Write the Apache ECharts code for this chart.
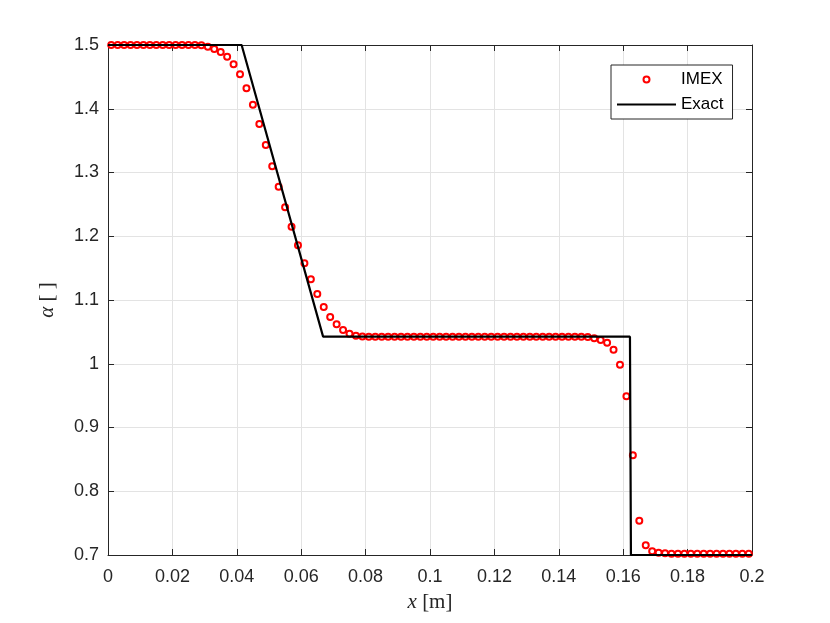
<!DOCTYPE html>
<html>
<head>
<meta charset="utf-8">
<script src="https://cdn.jsdelivr.net/npm/echarts@6/dist/echarts.min.js"></script>
<style>
  html, body { margin: 0; padding: 0; background: #fff; }
  #chart { width: 830px; height: 623px; }
</style>
</head>
<body>
<div id="chart"></div>
<script>
// IMEX solution, cell centres
const imexX = [
  0.001, 0.003, 0.005, 0.007, 0.009, 0.011, 0.013, 0.015, 0.017, 0.019,
  0.021, 0.023, 0.025, 0.027, 0.029, 0.031, 0.033, 0.035, 0.037, 0.039,
  0.041, 0.043, 0.045, 0.047, 0.049, 0.051, 0.053, 0.055, 0.057, 0.059,
  0.061, 0.063, 0.065, 0.067, 0.069, 0.071, 0.073, 0.075, 0.077, 0.079,
  0.081, 0.083, 0.085, 0.087, 0.089, 0.091, 0.093, 0.095, 0.097, 0.099,
  0.101, 0.103, 0.105, 0.107, 0.109, 0.111, 0.113, 0.115, 0.117, 0.119,
  0.121, 0.123, 0.125, 0.127, 0.129, 0.131, 0.133, 0.135, 0.137, 0.139,
  0.141, 0.143, 0.145, 0.147, 0.149, 0.151, 0.153, 0.155, 0.157, 0.159,
  0.161, 0.163, 0.165, 0.167, 0.169, 0.171, 0.173, 0.175, 0.177, 0.179,
  0.181, 0.183, 0.185, 0.187, 0.189, 0.191, 0.193, 0.195, 0.197, 0.199
];
const imexY = [
  1.5, 1.5, 1.5, 1.5, 1.5, 1.5, 1.5, 1.5, 1.5, 1.5,
  1.5, 1.5, 1.5, 1.5, 1.4995, 1.4974, 1.4937, 1.489, 1.4817, 1.4697,
  1.454, 1.432, 1.4064, 1.376, 1.343, 1.3097, 1.2777, 1.2454, 1.215, 1.1858,
  1.1575, 1.1325, 1.1094, 1.089, 1.0735, 1.062, 1.053, 1.047, 1.044, 1.0428,
  1.0425, 1.0425, 1.0425, 1.0425, 1.0425, 1.0425, 1.0425, 1.0425, 1.0425, 1.0425,
  1.0425, 1.0425, 1.0425, 1.0425, 1.0425, 1.0425, 1.0425, 1.0425, 1.0425, 1.0425,
  1.0425, 1.0425, 1.0425, 1.0425, 1.0425, 1.0425, 1.0425, 1.0425, 1.0425, 1.0425,
  1.0425, 1.0425, 1.0425, 1.0425, 1.0418, 1.04, 1.0373, 1.033, 1.022, 0.9985,
  0.949, 0.8564, 0.7538, 0.7152, 0.706, 0.7036, 0.7027, 0.702, 0.702, 0.702,
  0.702, 0.702, 0.702, 0.702, 0.702, 0.702, 0.702, 0.702, 0.702, 0.702
];
// exact solution corners
const exactX = [0, 0.0415, 0.0668, 0.1621, 0.1624, 0.2];
const exactY = [1.5, 1.5, 1.0425, 1.0425, 0.7, 0.7];

const seriesNames = ["IMEX", "Exact"];
const xRange = [0, 0.2, 0.02];
const yRange = [0.7, 1.5, 0.1];

const axisColor = "#262626";
const gridColor = "#e3e3e3";
const tickFont = "Liberation Sans, Arial, sans-serif";
const mathFont = "Liberation Serif, Times New Roman, serif";

const chart = echarts.init(document.getElementById("chart"));

function frameAxis(pos, range, isMain, margin) {
  return {
    type: "value",
    position: pos,
    min: range[0],
    max: range[1],
    interval: range[2],
    axisLine: { show: true, onZero: false, lineStyle: { color: axisColor, width: 1 } },
    axisTick: { show: true, inside: true, length: 6, lineStyle: { color: axisColor } },
    axisLabel: {
      show: isMain,
      color: axisColor,
      fontSize: 18,
      fontFamily: tickFont,
      margin: margin || 9,
    },
    splitLine: { show: isMain, lineStyle: { color: gridColor, width: 1 } },
  };
}

const xMain = frameAxis("bottom", xRange, true, 13);
xMain.name = "{i|x} [m]";
xMain.nameLocation = "middle";
xMain.nameGap = 37;
xMain.nameTextStyle = {
  fontSize: 21,
  fontFamily: mathFont,
  color: axisColor,
  rich: { i: { fontStyle: "italic", fontSize: 21, fontFamily: mathFont, color: axisColor } },
};

const yMain = frameAxis("left", yRange, true, 9);
yMain.name = "{i|α} [ ]";
yMain.nameLocation = "middle";
yMain.nameGap = 50;
yMain.nameTextStyle = {
  fontSize: 21,
  fontFamily: mathFont,
  color: axisColor,
  rich: { i: { fontStyle: "italic", fontSize: 21, fontFamily: mathFont, color: axisColor } },
};

const option = {
  backgroundColor: "#fff",
  animation: false,
  grid: { left: 108, right: 78, top: 45, bottom: 68, containLabel: false },
  xAxis: [xMain, frameAxis("top", xRange, false)],
  yAxis: [yMain, frameAxis("right", yRange, false)],
  legend: {
    orient: "vertical",
    left: 611,
    top: 65,
    padding: [6, 9, 6, 6],
    itemWidth: 59,
    itemHeight: 7.5,
    itemGap: 8,
    align: "left",
    backgroundColor: "#fff",
    borderColor: axisColor,
    borderWidth: 1,
    borderRadius: 0,
    textStyle: { fontSize: 17, fontFamily: tickFont, color: "#000", lineHeight: 17, padding: [0, 0, 0, 0] },
    data: [
      { name: seriesNames[0], lineStyle: { opacity: 0, width: 0 } },
      { name: seriesNames[1], icon: "path://M0,0 L59,0 L59,2.2 L0,2.2 Z" },
    ],
  },
  series: [
    {
      name: seriesNames[0],
      type: "line",
      data: imexX.map((x, i) => [x, imexY[i]]),
      symbol: "emptyCircle",
      symbolSize: 6,
      showSymbol: true,
      clip: false,
      lineStyle: { width: 0, opacity: 0 },
      itemStyle: { color: "#ff0000", borderWidth: 1.4 },
      z: 3,
    },
    {
      name: seriesNames[1],
      type: "line",
      data: exactX.map((x, i) => [x, exactY[i]]),
      symbol: "none",
      lineStyle: { color: "#000", width: 2.2 },
      itemStyle: { color: "#000" },
      z: 4,
    },
  ],
};

chart.setOption(option);
</script>
</body>
</html>
